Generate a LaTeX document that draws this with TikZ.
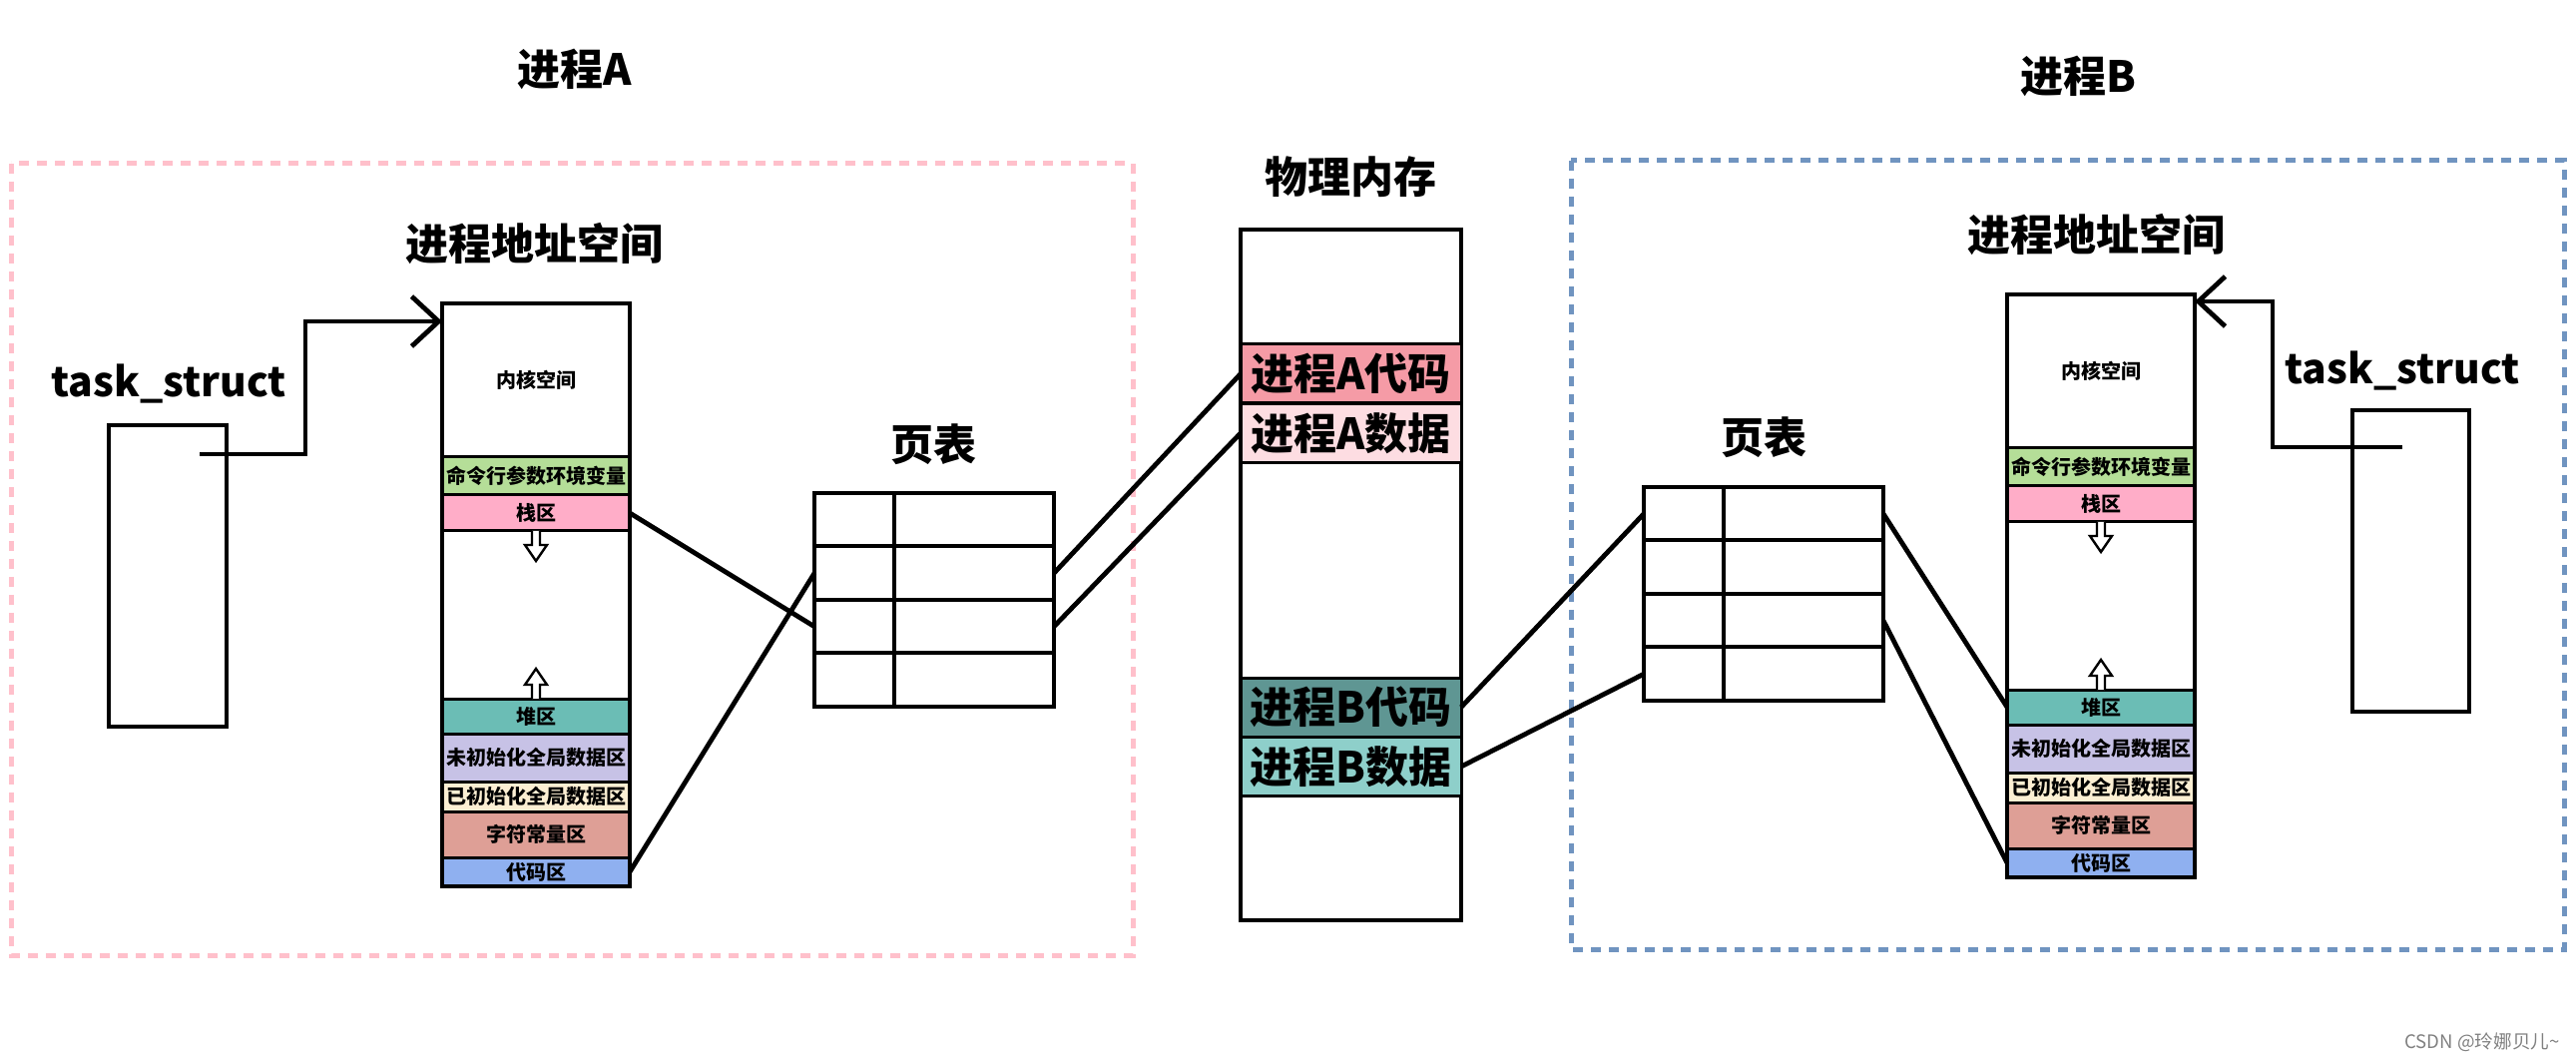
\documentclass[tikz,border=0pt]{standalone}
\usepackage{fontspec}
\setmainfont{Noto Sans CJK SC}
\usetikzlibrary{positioning,arrows.meta}

\definecolor{cmdgreen}{RGB}{181,222,152}
\definecolor{stackpink}{RGB}{255,173,200}
\definecolor{heapteal}{RGB}{107,189,181}
\definecolor{uninitlav}{RGB}{199,194,230}
\definecolor{initcream}{RGB}{252,239,211}
\definecolor{constred}{RGB}{222,159,150}
\definecolor{codeblue}{RGB}{143,176,240}
\definecolor{acode}{RGB}{245,155,166}
\definecolor{adata}{RGB}{253,221,226}
\definecolor{bcode}{RGB}{95,150,147}
\definecolor{bdata}{RGB}{142,207,202}
\definecolor{boxpink}{RGB}{255,192,203}
\definecolor{boxblue}{RGB}{112,148,192}

\tikzset{
    titletext/.style={font=\fontsize{21.5pt}{24pt}\selectfont\bfseries},
    tasktext/.style={font=\fontsize{20.4pt}{24pt}\selectfont\bfseries},
    band/.style={draw, line width=1.5pt, minimum width=94pt, inner sep=0pt, outer sep=0pt,
        font=\fontsize{10pt}{12pt}\selectfont\bfseries},
    pband/.style={draw, line width=1.5pt, minimum width=110.5pt, minimum height=29.5pt, inner sep=0pt,
        outer sep=0pt, font=\fontsize{21.5pt}{24pt}\selectfont\bfseries},
    tabrow/.style={draw, line width=2pt, minimum width=120pt, inner sep=0pt, outer sep=0pt},
    thickbox/.style={draw, line width=2pt, inner sep=0pt, outer sep=0pt},
    link/.style={line width=2.4pt},
    ptr/.style={line width=2.4pt, -{Straight Barb[length=13.5pt,width=25pt,line width=2.4pt]}},
    hollow/.style={draw, line width=1.2pt, fill=white},
    dashbox/.style={line width=2.5pt, dash pattern=on 5pt off 4pt}
}

% address space: #1 name prefix, #2 x of centre, #3 top y
\newcommand{\addrspace}[3]{
    \node[band, minimum height=77pt, anchor=north] (#1kernel) at (#2,#3) {内核空间};
    \node[band, fill=cmdgreen, minimum height=19pt, below=0pt of #1kernel] (#1cmd) {命令行参数环境变量};
    \node[band, fill=stackpink, minimum height=18pt, below=0pt of #1cmd] (#1stack) {栈区};
    \node[band, minimum height=84pt, below=0pt of #1stack] (#1gap) {};
    \node[band, fill=heapteal, minimum height=17.5pt, below=0pt of #1gap] (#1heap) {堆区};
    \node[band, fill=uninitlav, minimum height=24pt, below=0pt of #1heap] (#1uninit) {未初始化全局数据区};
    \node[band, fill=initcream, minimum height=15pt, below=0pt of #1uninit] (#1init) {已初始化全局数据区};
    \node[band, fill=constred, minimum height=23pt, below=0pt of #1init] (#1const) {字符常量区};
    \node[band, fill=codeblue, minimum height=14.5pt, below=0pt of #1const] (#1code) {代码区};
    \draw[line width=2pt] (#1kernel.north west) rectangle (#1code.south east);
    \begin{scope}[shift={(#1gap.north)}]
        \draw[hollow] (-4,0) -- (-4,14) -- (-11,14) -- (0,30) -- (11,14) -- (4,14) -- (4,0);
    \end{scope}
    \begin{scope}[shift={(#1gap.south)}]
        \draw[hollow] (-4,0) -- (-4,-14) -- (-11,-14) -- (0,-30) -- (11,-14) -- (4,-14) -- (4,0);
    \end{scope}
}

% page table: #1 name prefix, #2 left x, #3 top y
\newcommand{\pagetable}[3]{
    \node[tabrow, minimum height=26.75pt, anchor=north west] (#11) at (#2,#3) {};
    \node[tabrow, minimum height=26.75pt, below=0pt of #11] (#12) {};
    \node[tabrow, minimum height=26.75pt, below=0pt of #12] (#13) {};
    \node[tabrow, minimum height=26.75pt, below=0pt of #13] (#14) {};
    \draw[line width=2pt] ([xshift=40pt]#11.north west) -- ([xshift=40pt]#14.south west);
}

\begin{document}
\begin{tikzpicture}[x=0.5pt, y=-0.5pt]
        \useasboundingbox (0,0) rectangle (2581,1063);

        \draw[boxpink, dashbox] (11,164) rectangle (1135,957);
        \draw[boxblue, dashbox] (1574,161) rectangle (2569,951);

        \node[titletext] (titleA) at (576,69) {进程A};
        \node[titletext] (titleB) at (2082,76) {进程B};
        \node[titletext] (spaceA) at (535,244) {进程地址空间};
        \node[titletext] (spaceB) at (2100,235) {进程地址空间};
        \node[titletext] (ptlabelA) at (935,445) {页表};
        \node[titletext] (ptlabelB) at (1767,438) {页表};
        \node[titletext] (physlabel) at (1353,177) {物理内存};
        \node[tasktext] (tasklabelA) at (169,385) {task\_struct};
        \node[tasktext] (tasklabelB) at (2407,372) {task\_struct};

        \addrspace{A}{537}{304}
        \addrspace{B}{2105}{295}

        \pagetable{tA}{816}{494}
        \pagetable{tB}{1647}{488}

        \node[thickbox, minimum width=110.5pt, minimum height=346pt, anchor=north west] (phys) at (1243,230) {};
        \node[pband, fill=acode] (pAcode) at (1353.5,374.5) {进程A代码};
        \node[pband, fill=adata] (pAdata) at (1353.5,434) {进程A数据};
        \node[pband, fill=bcode] (pBcode) at (1353.5,708.5) {进程B代码};
        \node[pband, fill=bdata] (pBdata) at (1353.5,768) {进程B数据};

        \node[thickbox, minimum width=59pt, minimum height=151pt, anchor=north west] (taskA) at (109,426) {};
        \node[thickbox, minimum width=58.5pt, minimum height=151pt, anchor=north west] (taskB) at (2357,411) {};
        \coordinate (taskAptr) at (200,455);
        \coordinate (taskBptr) at (2407,448);

        \draw[ptr] (taskAptr) -- ++(106,0) |- ([yshift=-9pt]Akernel.north west);
        \draw[ptr] (taskBptr) -- ++(-130,0) |- ([yshift=-3.5pt]Bkernel.north east);

        \draw[link] (Astack.east) -- (tA3.west);
        \draw[link] (Acode.east) -- (tA2.west);
        \draw[link] (tA2.east) -- (pAcode.west);
        \draw[link] (tA3.east) -- (pAdata.west);
        \draw[link] (pBcode.east) -- (tB1.west);
        \draw[link] (pBdata.east) -- (tB4.west);
        \draw[link] (tB1.east) -- (Bheap.west);
        \draw[link] (tB3.east) -- (Bcode.west);

        \node[text=gray, font=\fontsize{9.3pt}{11pt}\selectfont] (mark) at (2487,1044) {CSDN @玲娜贝儿\textasciitilde};
    \end{tikzpicture}
\end{document}
